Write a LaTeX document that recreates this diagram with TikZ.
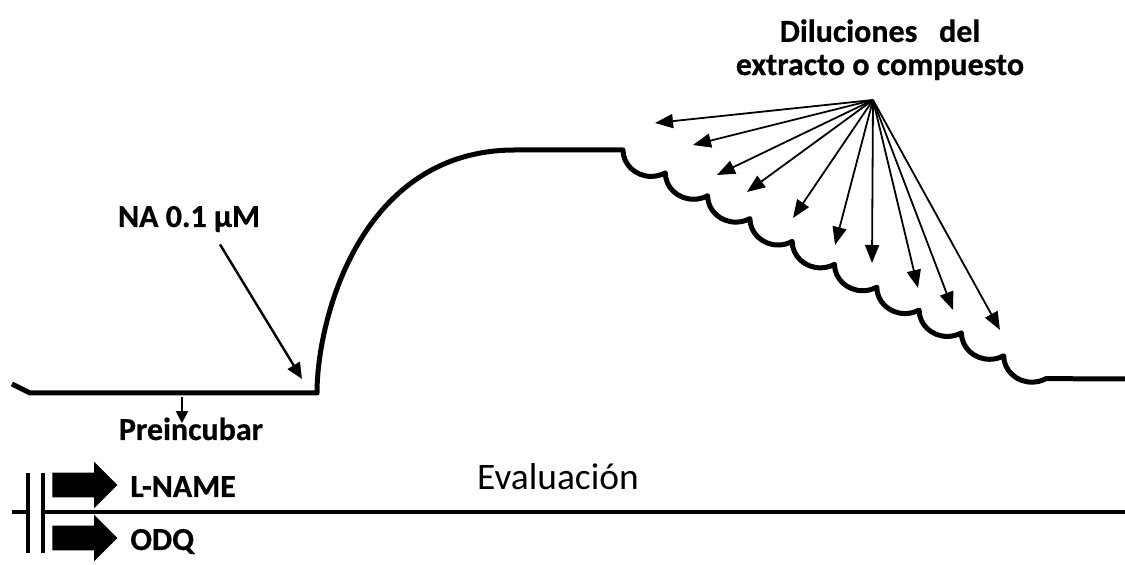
\documentclass[tikz,border=0pt]{standalone}
\usepackage{fontspec}
\setmainfont{Carlito}[BoldFeatures={FakeBold=0.6}]
\usetikzlibrary{arrows.meta,shapes.arrows}

\begin{document}
\begin{tikzpicture}[x=0.5pt,y=-0.5pt,
  trace/.style={line width=2.5pt,line join=round},
  rail/.style={line width=2pt},
  txt/.style={font=\fontsize{16}{16.6}\selectfont\bfseries,inner sep=0pt},
  fanarrow/.style={line width=0.9pt,-{Triangle[length=9pt,width=7pt]}},
  thinarrow/.style={line width=1.2pt,-{Triangle[length=8pt,width=7pt]}},
  smallarrow/.style={line width=1pt,-{Triangle[length=6pt,width=6pt]}},
  blockarrow/.style={single arrow,fill=black,inner sep=6pt,minimum height=32.5pt,
    single arrow head extend=5.5pt,anchor=west}]
\useasboundingbox (0,0) rectangle (1125,565);
% Tension trace
\draw[trace] (12,384) -- (30,393) -- (317,393)
  .. controls (317,320) and (360,150) .. (515,150) -- (623,150)
  \foreach \k in {1,...,10}{ arc[start angle=180,end angle=300,x radius=14.1pt,y radius=13.2pt] }
  -- (1125,379);
% NA
\node[txt,anchor=base] (na) at (189,227) {NA 0.1 µM};
\coordinate (natip) at (302,379);
\draw[thinarrow] ([xshift=15.5pt,yshift=-6pt]na.south) -- (natip);
% Preincubation
\node[txt,anchor=base] (pre) at (191,440) {Preincubar};
\coordinate (pinc) at (182,397);
\draw[smallarrow,shorten >=-3pt] (pinc) -- (pinc |- pre.north);
% Dilutions
\node[txt,align=center,anchor=north] (dil) at (880,19) {Diluciones\ \ \ del\\extracto o compuesto};
\coordinate (src) at (873,100);
\foreach \x/\y [count=\i] in {655/123,693/145,717/175,747/192,793/218,835/245,872/263,918/288,953/310,1000/330}{
  \coordinate (d\i) at (\x,\y);
  \draw[fanarrow] (src) -- (d\i);
}
% Evaluation rail
\draw[rail] (12,512) -- (28,512);
\draw[rail] (43,512) -- (1125,512);
\draw[rail] (28,473) -- (28,553);
\draw[rail] (43,473) -- (43,553);
\node[blockarrow] (ln) at (52,485) {};
\node[blockarrow] (od) at (52,538) {};
\node[txt,anchor=base west] (lname) at (130,497) {L-NAME};
\node[txt,anchor=base west] (odq) at (130,550) {ODQ};
\node[font=\fontsize{18.7}{22}\selectfont,inner sep=0pt,anchor=base] (ev) at (558,490) {Evaluación};
\end{tikzpicture}
\end{document}
